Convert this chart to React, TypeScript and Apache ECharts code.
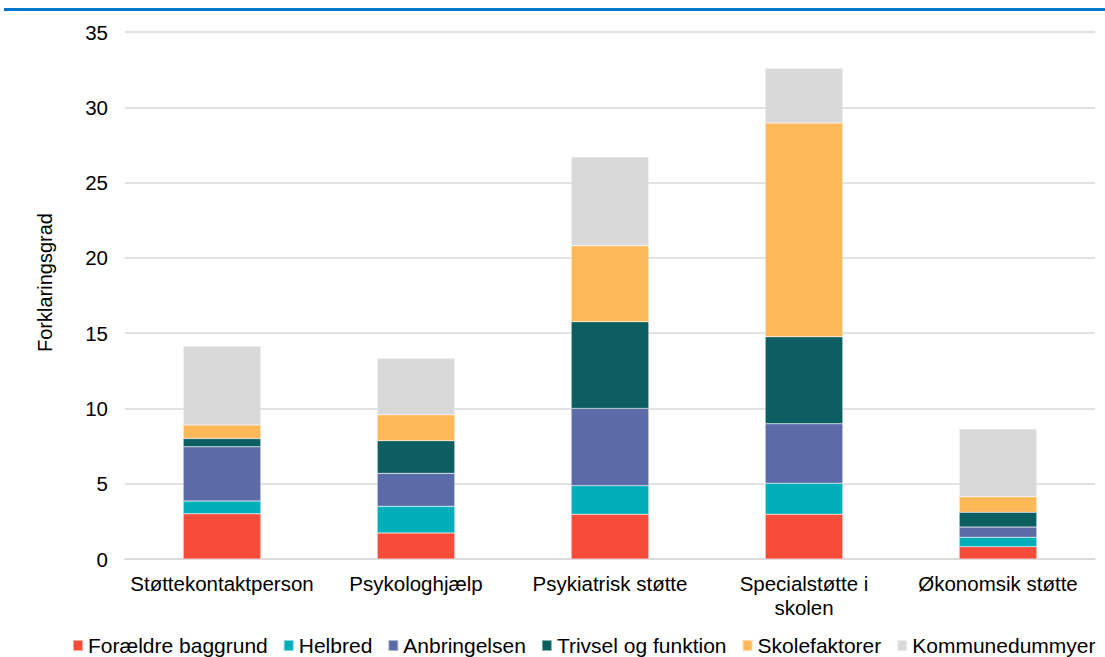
import React, { useEffect, useRef } from "react";
import * as echarts from "echarts";

const categories = [
  "Støttekontaktperson",
  "Psykologhjælp",
  "Psykiatrisk støtte",
  "Specialstøtte i\nskolen",
  "Økonomsik støtte",
];
const seriesNames = [
  "Forældre baggrund",
  "Helbred",
  "Anbringelsen",
  "Trivsel og funktion",
  "Skolefaktorer",
  "Kommunedummyer",
];
const foraeldre = [3.0, 1.73, 2.97, 2.97, 0.82];
const helbred = [0.85, 1.77, 1.9, 2.06, 0.62];
const anbringelsen = [3.6, 2.19, 5.13, 3.95, 0.68];
const trivsel = [0.55, 2.17, 5.76, 5.78, 0.98];
const skolefaktorer = [0.9, 1.72, 5.04, 14.19, 1.04];
const kommunedummyer = [5.25, 3.75, 5.9, 3.65, 4.49];
const yTicks = [0, 5, 10, 15, 20, 25, 30, 35];

const colors = ["#F84C3B", "#00AEBA", "#5B6BA8", "#0C5E60", "#FDB858", "#D9D9D9"];
const values = [foraeldre, helbred, anbringelsen, trivsel, skolefaktorer, kommunedummyer];

export default function App() {
  const ref = useRef<HTMLDivElement>(null);
  useEffect(() => {
    if (!ref.current) return;
    const chart = echarts.init(ref.current, null, { renderer: "svg" });
    const font = "'Liberation Sans', Arial, sans-serif";
    chart.setOption({
      animation: false,
      textStyle: { fontFamily: font },
      graphic: [
        {
          type: "rect",
          shape: { x: 4, y: 8, width: 1101, height: 3 },
          style: { fill: "#0077C8" },
        },
      ],
      grid: { left: 125, right: 10, top: 32, bottom: 98 },
      legend: {
        top: 630,
        left: 67,
        padding: [5, 5, 5, 5],
        itemWidth: 10,
        itemHeight: 11,
        itemGap: 15,
        icon: "rect",
        textStyle: { fontSize: 21, color: "#000", fontFamily: font },
        data: seriesNames,
      },
      xAxis: {
        type: "category",
        data: categories,
        axisLine: { lineStyle: { color: "#D9D9D9", width: 1.5 } },
        axisTick: { show: false },
        axisLabel: { fontSize: 20.5, color: "#000", fontFamily: font, margin: 12, lineHeight: 24, interval: 0 },
      },
      yAxis: {
        type: "value",
        min: yTicks[0],
        max: yTicks[yTicks.length - 1],
        interval: 5,
        name: "Forklaringsgrad",
        nameLocation: "middle",
        nameGap: 70,
        nameTextStyle: { fontSize: 20, color: "#000", fontFamily: font, padding: [0, 0, 0, 26] },
        axisLine: { show: false },
        axisTick: { show: false },
        axisLabel: { fontSize: 20.5, color: "#000", fontFamily: font, margin: 17 },
        splitLine: { lineStyle: { color: "#D9D9D9", width: 1.5 } },
      },
      series: seriesNames.map((name, i) => ({
        name,
        type: "bar",
        stack: "total",
        barWidth: "40%",
        data: values[i],
        itemStyle: { color: colors[i], borderColor: "rgba(255,255,255,0.5)", borderWidth: 0.5 },
      })),
    });
    return () => chart.dispose();
  }, []);
  return <div ref={ref} style={{ width: 1105, height: 657, position: "absolute", left: 0, top: 0 }} />;
}
